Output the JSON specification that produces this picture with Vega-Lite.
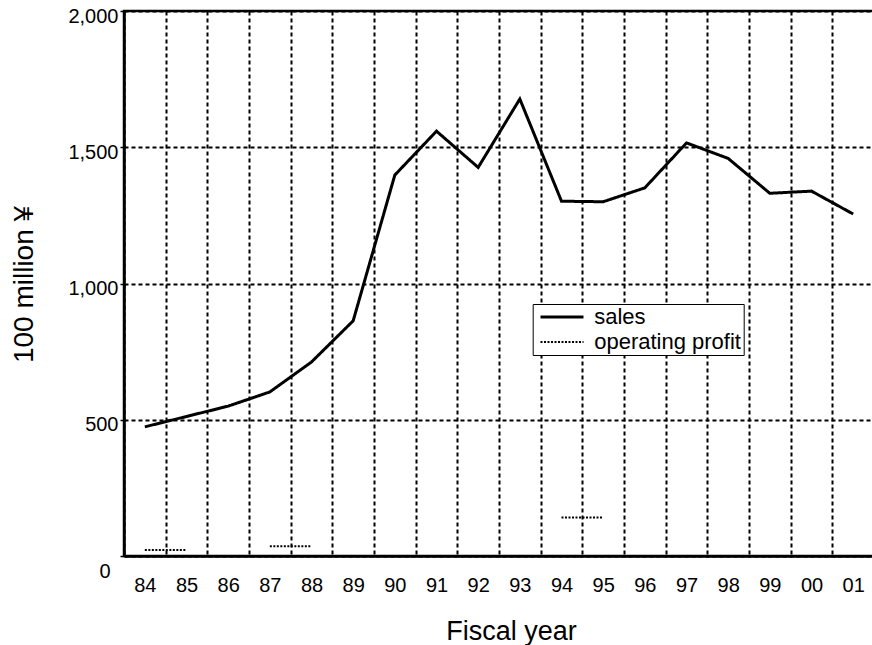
{
  "$schema": "https://vega.github.io/schema/vega-lite/v6.json",
  "autosize": {"type": "none"},
  "padding": {"left": 124, "top": 11, "right": 0, "bottom": 89},
  "width": 750,
  "height": 545,
  "background": "white",
  "data": {
    "values": [
      {"year": "84", "series": "sales", "seg": "s", "value": 474},
      {"year": "85", "series": "sales", "seg": "s", "value": 512},
      {"year": "86", "series": "sales", "seg": "s", "value": 550},
      {"year": "87", "series": "sales", "seg": "s", "value": 602},
      {"year": "88", "series": "sales", "seg": "s", "value": 712},
      {"year": "89", "series": "sales", "seg": "s", "value": 863},
      {"year": "90", "series": "sales", "seg": "s", "value": 1398},
      {"year": "91", "series": "sales", "seg": "s", "value": 1559},
      {"year": "92", "series": "sales", "seg": "s", "value": 1426},
      {"year": "93", "series": "sales", "seg": "s", "value": 1677},
      {"year": "94", "series": "sales", "seg": "s", "value": 1302},
      {"year": "95", "series": "sales", "seg": "s", "value": 1300},
      {"year": "96", "series": "sales", "seg": "s", "value": 1351},
      {"year": "97", "series": "sales", "seg": "s", "value": 1516},
      {"year": "98", "series": "sales", "seg": "s", "value": 1459},
      {"year": "99", "series": "sales", "seg": "s", "value": 1331},
      {"year": "00", "series": "sales", "seg": "s", "value": 1339},
      {"year": "01", "series": "sales", "seg": "s", "value": 1255},
      {"year": "84", "series": "operating profit", "seg": "p1", "value": 22},
      {"year": "85", "series": "operating profit", "seg": "p1", "value": 22},
      {"year": "87", "series": "operating profit", "seg": "p2", "value": 36},
      {"year": "88", "series": "operating profit", "seg": "p2", "value": 36},
      {"year": "94", "series": "operating profit", "seg": "p3", "value": 141},
      {"year": "95", "series": "operating profit", "seg": "p3", "value": 141}
    ]
  },
  "mark": {"type": "line", "color": "black"},
  "encoding": {
    "x": {
      "field": "year",
      "type": "ordinal",
      "bandPosition": 0.5,
      "scale": {
        "type": "band",
        "domain": ["84","85","86","87","88","89","90","91","92","93","94","95","96","97","98","99","00","01"],
        "paddingInner": 0,
        "paddingOuter": 0
      },
      "axis": {
        "title": "Fiscal year",
        "titleFontSize": 27,
        "titleX": 387,
        "titleY": 83,
        "titleBaseline": "alphabetic",
        "titleAlign": "center",
        "labelAngle": 0,
        "labelFontSize": 20,
        "labelPadding": 19,
        "ticks": false,
        "tickBand": "extent",
        "grid": true,
        "gridColor": "black",
        "gridDash": [4, 3],
        "gridWidth": 2,
        "gridOpacity": 1,
        "domainWidth": 2.5
      }
    },
    "y": {
      "field": "value",
      "type": "quantitative",
      "scale": {"domain": [0, 2000], "nice": false, "zero": true},
      "axis": {
        "title": "100 million ¥",
        "titleFontSize": 28,
        "titleX": -92,
        "titleY": 273,
        "titleBaseline": "alphabetic",
        "titleAlign": "center",
        "values": [0, 500, 1000, 1500, 2000],
        "format": ",d",
        "labelFontSize": 20,
        "labelOffset": 5,
        "labelPadding": {"condition": {"test": "datum.value === 0", "value": 10}, "value": 2},
        "labelBaseline": {"condition": {"test": "datum.value === 0", "value": "top"}, "value": "middle"},
        "tickSize": 4,
        "tickWidth": 1.5,
        "grid": true,
        "gridColor": "black",
        "gridDash": [4, 3],
        "gridWidth": 2,
        "gridOpacity": 1,
        "domainWidth": 2.5
      }
    },
    "detail": {"field": "seg", "type": "nominal"},
    "strokeDash": {
      "field": "series",
      "type": "nominal",
      "scale": {"domain": ["sales", "operating profit"], "range": [[1, 0], [2, 1.5]]},
      "legend": {
        "title": null,
        "orient": "none",
        "legendX": 408.7,
        "legendY": 293,
        "padding": 2,
        "fillColor": "white",
        "strokeColor": "black",
        "symbolType": "M-4,0L4,0",
        "symbolSize": 115.6,
        "symbolStrokeColor": "black",
        "symbolStrokeWidth": 2,
        "symbolOffset": 16.3,
        "labelOffset": 21.2,
        "labelFontSize": 22,
        "rowPadding": 3
      }
    },
    "strokeWidth": {
      "field": "series",
      "type": "nominal",
      "scale": {"domain": ["sales", "operating profit"], "range": [3, 2]},
      "legend": null
    }
  },
  "config": {
    "font": "Liberation Sans",
    "view": {"stroke": "black", "strokeWidth": 2.5},
    "axis": {
      "domainColor": "black",
      "tickColor": "black",
      "labelColor": "black",
      "titleColor": "black",
      "titleFontWeight": "normal",
      "labelFont": "Liberation Sans",
      "titleFont": "Liberation Sans"
    },
    "legend": {"labelColor": "black", "labelFont": "Liberation Sans", "strokeWidth": 1}
  }
}
